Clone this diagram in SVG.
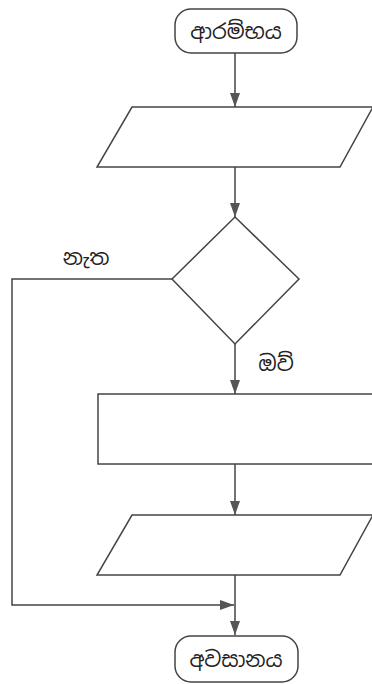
<svg xmlns="http://www.w3.org/2000/svg" width="372" height="684" viewBox="0 0 372 684">
<style>
.s{fill:#fff;stroke:#444;stroke-width:1.5}
.c{fill:none;stroke:#444;stroke-width:1.5}
.t{font-family:"Noto Sans Sinhala","Noto Serif Sinhala","Iskoola Pota","Noto Sans",sans-serif;font-size:21px;fill:#222}
</style>
<defs>
<marker id="a" viewBox="0 0 14 10" refX="14" refY="5" markerWidth="14" markerHeight="10" markerUnits="userSpaceOnUse" orient="auto">
<path d="M0,0 L14,5 L0,10 Z" fill="#555"/>
</marker>
</defs>
<rect width="372" height="684" fill="#fff"/>
<g id="connectors">
<line class="c" x1="235" y1="53" x2="235" y2="107" marker-end="url(#a)"/>
<line class="c" x1="235" y1="167" x2="235" y2="217" marker-end="url(#a)"/>
<line class="c" x1="235" y1="344" x2="235" y2="394" marker-end="url(#a)"/>
<line class="c" x1="235" y1="464" x2="235" y2="515" marker-end="url(#a)"/>
<line class="c" x1="235" y1="575" x2="235" y2="635" marker-end="url(#a)"/>
<polyline class="c" points="172,279 12,279 12,605 234,605" marker-end="url(#a)"/>
<text class="t" x="86" y="265" text-anchor="middle">නැත</text>
<text class="t" x="276" y="371" text-anchor="middle">ඔව්</text>
</g>
<g id="start">
<rect class="s" x="175" y="9" width="122" height="44" rx="16"/>
<text class="t" x="236" y="39" text-anchor="middle">ආරම්භය</text>
</g>
<g id="input1">
<polygon class="s" points="132,107 373,107 340,167 97,167"/>
</g>
<g id="decision">
<polygon class="s" points="235,217 299,279 235,344 172,279"/>
</g>
<g id="process">
<rect class="s" x="98" y="394" width="290" height="70"/>
</g>
<g id="output">
<polygon class="s" points="132,515 373,515 340,575 97,575"/>
</g>
<g id="end">
<rect class="s" x="175" y="636" width="123" height="46" rx="16"/>
<text class="t" x="236" y="667" text-anchor="middle">අවසානය</text>
</g>
</svg>
